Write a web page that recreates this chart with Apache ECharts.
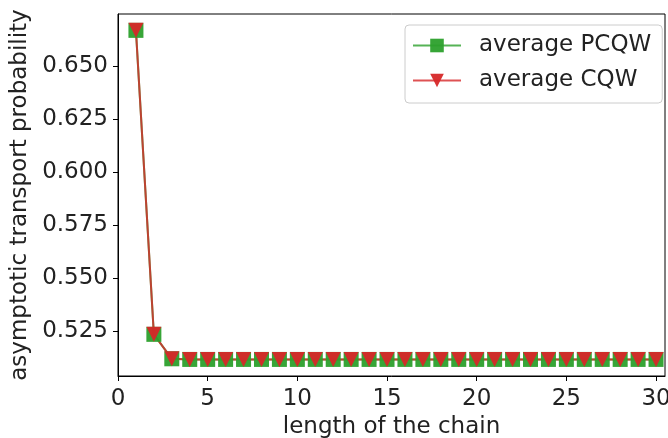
<!DOCTYPE html>
<html>
<head>
<meta charset="utf-8">
<script src="https://cdn.jsdelivr.net/npm/echarts@6/dist/echarts.min.js"></script>
<style>html,body{margin:0;padding:0;background:#fff}#c{width:668px;height:438px}</style>
</head>
<body>
<div id="c"></div>
<script>
const chainLength = [1,2,3,4,5,6,7,8,9,10,11,12,13,14,15,16,17,18,19,20,21,22,23,24,25,26,27,28,29,30];
const avgPCQW = [0.6667,0.5236,0.5121,0.5118,0.5118,0.5118,0.5118,0.5118,0.5118,0.5118,0.5118,0.5118,0.5118,0.5118,0.5118,0.5118,0.5118,0.5118,0.5118,0.5118,0.5118,0.5118,0.5118,0.5118,0.5118,0.5118,0.5118,0.5118,0.5118,0.5118];
const avgCQW = [0.6667,0.5236,0.5121,0.5118,0.5118,0.5118,0.5118,0.5118,0.5118,0.5118,0.5118,0.5118,0.5118,0.5118,0.5118,0.5118,0.5118,0.5118,0.5118,0.5118,0.5118,0.5118,0.5118,0.5118,0.5118,0.5118,0.5118,0.5118,0.5118,0.5118];
const xTicks = [0,5,10,15,20,25,30];
const yTicks = [0.525,0.550,0.575,0.600,0.625,0.650];

const font = 'DejaVu Sans';
const fs = 23;
const chart = echarts.init(document.getElementById('c'), null, {renderer:'canvas'});
chart.setOption({
  animation:false,
  backgroundColor:'#fff',
  grid:{left:118, right:3, top:14, bottom:62, show:true, borderColor:'#000', borderWidth:1, backgroundColor:'transparent', outerBoundsMode:'none', containLabel:false},
  legend:{
    orient:'vertical', left:405, top:25,
    padding:[9,11,11,7], itemGap:12, itemWidth:48, itemHeight:17,
    borderColor:'#cccccc', borderWidth:1, borderRadius:4, backgroundColor:'rgba(255,255,255,0.8)',
    textStyle:{fontFamily:font, fontSize:fs, color:'#222', padding:[0,0,0,13]},
    data:['average PCQW','average CQW']
  },
  xAxis:{
    type:'value', min:0, max:30.5,
    name:'length of the chain', nameLocation:'middle', nameGap:39,
    nameTextStyle:{fontFamily:font, fontSize:fs, color:'#222'},
    axisLine:{show:true, onZero:false, lineStyle:{color:'#000', width:1}},
    axisTick:{show:true, length:5, customValues:xTicks, lineStyle:{color:'#000'}},
    axisLabel:{fontFamily:font, fontSize:fs, color:'#222', margin:12, customValues:xTicks},
    splitLine:{show:false}
  },
  yAxis:{
    type:'value', min:0.504, max:0.6744,
    name:'asymptotic transport probability', nameLocation:'middle', nameGap:86,
    nameTextStyle:{fontFamily:font, fontSize:fs, color:'#222'},
    axisLine:{show:true, onZero:false, lineStyle:{color:'#000', width:1}},
    axisTick:{show:true, length:5, customValues:yTicks, lineStyle:{color:'#000'}},
    axisLabel:{fontFamily:font, fontSize:fs, color:'#222', margin:10, customValues:yTicks, formatter:v=>v.toFixed(3)},
    splitLine:{show:false}
  },
  series:[
    {name:'average PCQW', type:'line', data:chainLength.map((x,i)=>[x,avgPCQW[i]]),
     symbol:'rect', symbolSize:15, color:'#2ca02c',
     lineStyle:{width:2, color:'rgba(44,160,44,0.8)'}, itemStyle:{color:'#2ca02c', opacity:0.95}},
    {name:'average CQW', type:'line', data:chainLength.map((x,i)=>[x,avgCQW[i]]),
     symbol:'triangle', symbolRotate:180, symbolSize:15, color:'#d62728',
     lineStyle:{width:2, color:'rgba(214,39,40,0.8)'}, itemStyle:{color:'#d62728', opacity:0.95}}
  ]
});
</script>
</body>
</html>
